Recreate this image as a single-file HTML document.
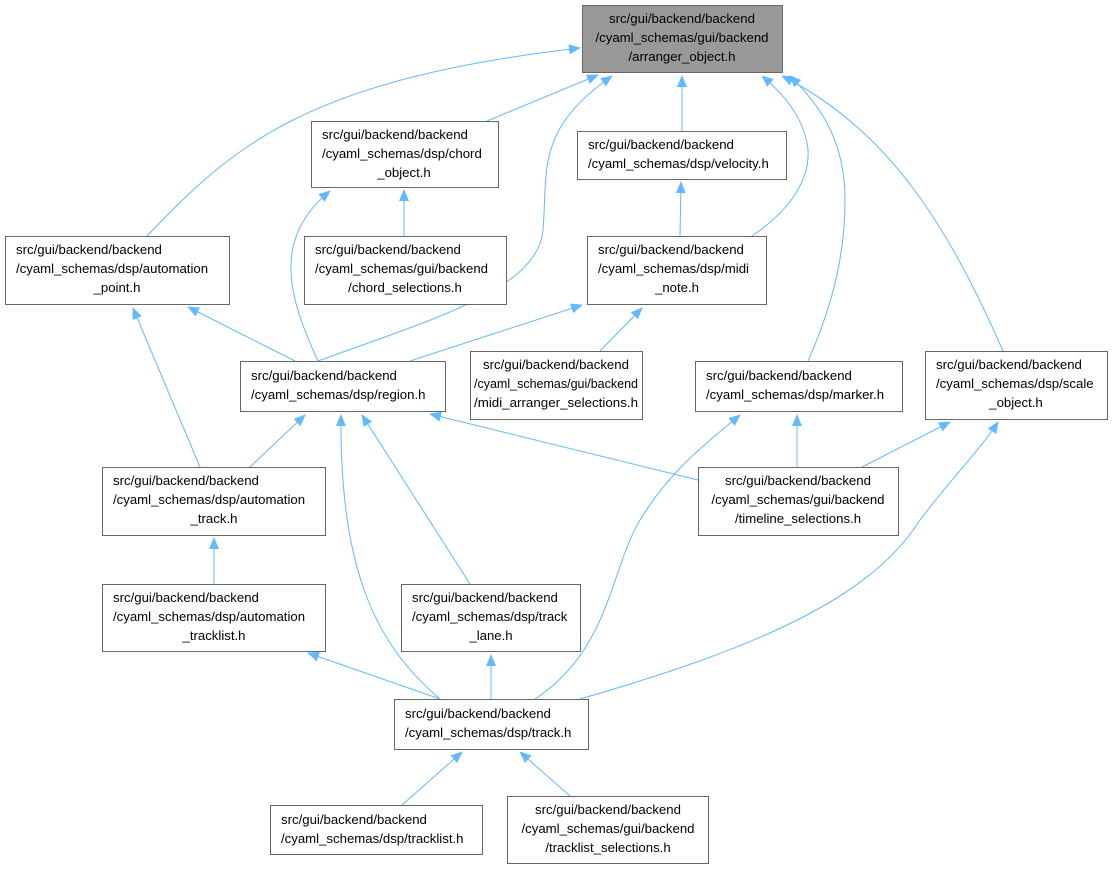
<!DOCTYPE html>
<html><head><meta charset="utf-8"><style>
html,body{margin:0;padding:0;background:#fff;}
svg{display:block}
text{font-family:"Liberation Sans","DejaVu Sans",sans-serif;font-size:13.2px;fill:#000}
.b{fill:#fff;stroke:#666;stroke-width:1}
.e{fill:none;stroke:#63b8ff;stroke-width:1}
</style></head><body>
<svg width="1114" height="869" viewBox="0 0 1114 869" xmlns="http://www.w3.org/2000/svg">
<defs><marker id="a" markerWidth="12" markerHeight="10" refX="11" refY="5" orient="auto" markerUnits="userSpaceOnUse"><path d="M0,0 L12,5 L0,10 z" fill="#63b8ff"/></marker></defs>
<g class="e" marker-end="url(#a)">
<path d="M147,236 C230,150 300,80 580,48"/>
<path d="M487,121 L598,75"/>
<path d="M318,361 C430,320 538,290 543,230 C548,170 535,130 612,76"/>
<path d="M682,131 L682,76"/>
<path d="M752,236 C790,210 810,180 808,150 C805,120 785,95 762,76"/>
<path d="M808,361 C835,300 845,250 845,200 C845,140 820,105 790,76"/>
<path d="M1003,351 C950,230 890,130 782,76"/>
<path d="M404,236 L404,190"/>
<path d="M318,361 C290,300 270,240 330,191"/>
<path d="M680,236 L681,182"/>
<path d="M295,361 L188,307"/>
<path d="M200,467 L133,308"/>
<path d="M410,361 L582,305"/>
<path d="M600,351 L642,308"/>
<path d="M250,467 L305,415"/>
<path d="M698,480 L430,414"/>
<path d="M470,584 L362,415"/>
<path d="M440,699 C370,640 340,560 341,415"/>
<path d="M797,467 L797,415"/>
<path d="M535,699 C610,650 610,570 640,520 C670,470 710,440 740,415"/>
<path d="M862,467 L950,422"/>
<path d="M580,699 C750,650 870,600 920,520 C950,480 980,450 998,422"/>
<path d="M214,584 L214,538"/>
<path d="M440,699 L308,653"/>
<path d="M491,699 L491,655"/>
<path d="M402,805 L462,752"/>
<path d="M570,796 L520,752"/>
</g>
<g>
<rect x="582.5" y="5.5" width="200" height="67" fill="#999" stroke="#666"/>
<text x="682" y="23" text-anchor="middle">src/gui/backend/backend</text>
<text x="682" y="42" text-anchor="middle">/cyaml_schemas/gui/backend</text>
<text x="682" y="61" text-anchor="middle">/arranger_object.h</text>

<rect class="b" x="311.5" y="121.5" width="187" height="66"/>
<text x="322" y="139">src/gui/backend/backend</text>
<text x="322" y="158">/cyaml_schemas/dsp/chord</text>
<text x="404" y="177" text-anchor="middle">_object.h</text>

<rect class="b" x="577.5" y="131.5" width="209" height="48"/>
<text x="588" y="149">src/gui/backend/backend</text>
<text x="588" y="168">/cyaml_schemas/dsp/velocity.h</text>

<rect class="b" x="5.5" y="236.5" width="224" height="68"/>
<text x="16" y="254">src/gui/backend/backend</text>
<text x="16" y="273">/cyaml_schemas/dsp/automation</text>
<text x="117" y="292" text-anchor="middle">_point.h</text>

<rect class="b" x="304.5" y="236.5" width="202" height="68"/>
<text x="315" y="254">src/gui/backend/backend</text>
<text x="315" y="273">/cyaml_schemas/gui/backend</text>
<text x="405" y="292" text-anchor="middle">/chord_selections.h</text>

<rect class="b" x="587.5" y="236.5" width="179" height="68"/>
<text x="598" y="254">src/gui/backend/backend</text>
<text x="598" y="273">/cyaml_schemas/dsp/midi</text>
<text x="677" y="292" text-anchor="middle">_note.h</text>

<rect class="b" x="240.5" y="361.5" width="205" height="50"/>
<text x="251" y="380">src/gui/backend/backend</text>
<text x="251" y="399">/cyaml_schemas/dsp/region.h</text>

<rect class="b" x="470.5" y="351.5" width="172" height="68"/>
<text x="556" y="369" text-anchor="middle">src/gui/backend/backend</text>
<text x="556" y="388" text-anchor="middle" textLength="164" lengthAdjust="spacingAndGlyphs">/cyaml_schemas/gui/backend</text>
<text x="556" y="407" text-anchor="middle" textLength="164" lengthAdjust="spacingAndGlyphs">/midi_arranger_selections.h</text>

<rect class="b" x="695.5" y="361.5" width="207" height="50"/>
<text x="706" y="380">src/gui/backend/backend</text>
<text x="706" y="399">/cyaml_schemas/dsp/marker.h</text>

<rect class="b" x="925.5" y="351.5" width="182" height="68"/>
<text x="936" y="369">src/gui/backend/backend</text>
<text x="936" y="388">/cyaml_schemas/dsp/scale</text>
<text x="1016" y="407" text-anchor="middle">_object.h</text>

<rect class="b" x="102.5" y="467.5" width="223" height="68"/>
<text x="113" y="485">src/gui/backend/backend</text>
<text x="113" y="504">/cyaml_schemas/dsp/automation</text>
<text x="214" y="523" text-anchor="middle">_track.h</text>

<rect class="b" x="698.5" y="467.5" width="200" height="68"/>
<text x="798" y="485" text-anchor="middle">src/gui/backend/backend</text>
<text x="798" y="504" text-anchor="middle">/cyaml_schemas/gui/backend</text>
<text x="798" y="523" text-anchor="middle">/timeline_selections.h</text>

<rect class="b" x="102.5" y="584.5" width="223" height="67"/>
<text x="113" y="602">src/gui/backend/backend</text>
<text x="113" y="621">/cyaml_schemas/dsp/automation</text>
<text x="214" y="640" text-anchor="middle">_tracklist.h</text>

<rect class="b" x="401.5" y="584.5" width="179" height="67"/>
<text x="412" y="602">src/gui/backend/backend</text>
<text x="412" y="621">/cyaml_schemas/dsp/track</text>
<text x="491" y="640" text-anchor="middle">_lane.h</text>

<rect class="b" x="394.5" y="699.5" width="194" height="50"/>
<text x="405" y="718">src/gui/backend/backend</text>
<text x="405" y="737">/cyaml_schemas/dsp/track.h</text>

<rect class="b" x="270.5" y="805.5" width="212" height="49"/>
<text x="281" y="824">src/gui/backend/backend</text>
<text x="281" y="843">/cyaml_schemas/dsp/tracklist.h</text>

<rect class="b" x="507.5" y="796.5" width="201" height="67"/>
<text x="608" y="814" text-anchor="middle">src/gui/backend/backend</text>
<text x="608" y="833" text-anchor="middle">/cyaml_schemas/gui/backend</text>
<text x="608" y="852" text-anchor="middle">/tracklist_selections.h</text>
</g>
</svg>
</body></html>
